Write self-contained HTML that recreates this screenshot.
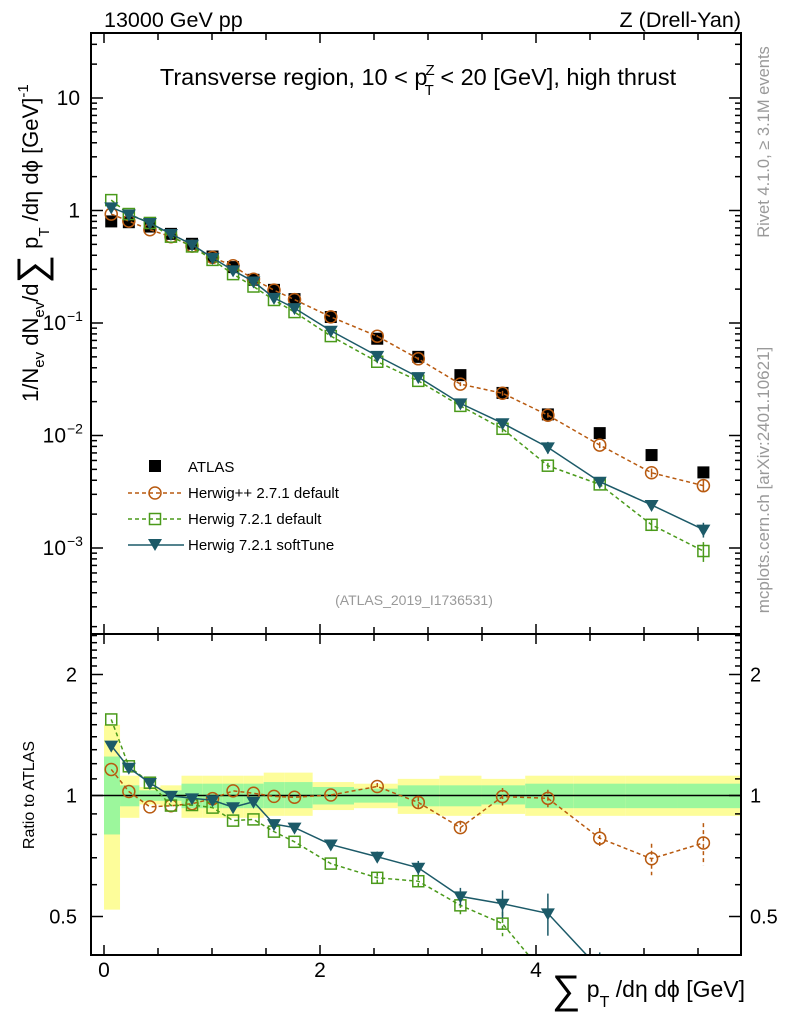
<!DOCTYPE html>
<html><head><meta charset="utf-8"><style>
html,body{margin:0;padding:0;background:#fff;overflow:hidden;width:786px;height:1024px}
svg{display:block;font-family:"Liberation Sans",sans-serif;overflow:hidden}
</style></head><body>
<svg id="chart" width="786" height="1024" viewBox="0 0 786 1024" xmlns="http://www.w3.org/2000/svg">
<g id="bands"></g>
<g id="marks"></g>
<g id="axes"></g>
<text x="104" y="27" font-size="21.5">13000 GeV pp</text>
<text x="741" y="27" font-size="21.5" text-anchor="end">Z (Drell-Yan)</text>
<text x="418" y="85" font-size="23.5" text-anchor="middle">Transverse region, 10 &lt; p<tspan dx="-2" dy="-10" font-size="15">Z</tspan><tspan dx="-10" dy="20" font-size="15">T</tspan><tspan dy="-10"> &lt; 20 [GeV], high thrust</tspan></text>
<text x="414" y="605" font-size="14" fill="#999" text-anchor="middle">(ATLAS_2019_I1736531)</text>
<text transform="translate(769,142) rotate(-90)" font-size="16.5" fill="#999" text-anchor="middle">Rivet 4.1.0, ≥ 3.1M events</text>
<text transform="translate(769,480) rotate(-90)" font-size="17" fill="#999" text-anchor="middle">mcplots.cern.ch [arXiv:2401.10621]</text>
<text transform="translate(38,402) rotate(-90)" font-size="22">1/N<tspan font-size="15" dy="6">ev</tspan><tspan dy="-6"> dN</tspan><tspan font-size="15" dy="6">ev</tspan><tspan dy="-6">/d</tspan><tspan font-size="40" dy="7">∑</tspan><tspan dy="-7"> p</tspan><tspan font-size="15" dy="11">T</tspan><tspan dy="-11"> /dη dϕ  [GeV]</tspan><tspan font-size="15" dy="-10">-1</tspan></text>
<text transform="translate(34,795) rotate(-90)" font-size="16" text-anchor="middle">Ratio to ATLAS</text>
<text x="745" y="997" font-size="23" text-anchor="end"><tspan font-size="40" dy="6">∑</tspan><tspan dy="-6"> p</tspan><tspan font-size="16" dy="10">T</tspan><tspan dy="-10"> /dη dϕ [GeV]</tspan></text>
<g font-size="15">
<rect x="149" y="460" width="12" height="12" fill="#000"/>
<text x="188" y="472">ATLAS</text>
<line x1="128" y1="493" x2="184" y2="493" stroke="#b85a10" stroke-width="1.5" stroke-dasharray="4,3"/>
<circle cx="155" cy="493" r="6" fill="none" stroke="#b85a10" stroke-width="1.5"/>
<text x="188" y="498">Herwig++ 2.7.1 default</text>
<line x1="128" y1="519" x2="184" y2="519" stroke="#4a9a1a" stroke-width="1.5" stroke-dasharray="4,3"/>
<rect x="149.5" y="513.5" width="11" height="11" fill="none" stroke="#4a9a1a" stroke-width="1.5"/>
<text x="188" y="524">Herwig 7.2.1 default</text>
<line x1="128" y1="545" x2="184" y2="545" stroke="#1c5a68" stroke-width="1.5"/>
<path d="M148,539 L162,539 L155,551 Z" fill="#1c5a68"/>
<text x="188" y="550">Herwig 7.2.1 softTune</text>
</g>
</svg>
<script>
const xVals=[0.067,0.23,0.425,0.62,0.815,1.005,1.195,1.384,1.574,1.764,2.1,2.53,2.91,3.3,3.69,4.11,4.59,5.07,5.55];
const atlas=[0.80,0.787,0.72,0.62,0.506,0.39,0.314,0.242,0.197,0.163,0.113,0.0725,0.050,0.0344,0.0239,0.0154,0.0105,0.0067,0.0047];
const ratioHpp=[1.161,1.023,0.937,0.943,0.954,0.982,1.027,1.013,0.995,0.99,1.003,1.053,0.961,0.832,0.994,0.984,0.783,0.696,0.762];
const ratioH7=[1.546,1.182,1.076,0.944,0.947,0.933,0.866,0.872,0.813,0.767,0.677,0.624,0.612,0.533,0.48,0.35,0.35,0.24,0.20];
const ratioSoft=[1.331,1.172,1.074,0.998,0.984,0.973,0.935,0.965,0.849,0.832,0.755,0.704,0.661,0.561,0.538,0.509,0.37,0.36,0.31];
const errHpp=[0,0,0,0,0,0,0,0,0,0,0,0.02,0.03,0.04,0.05,0.05,0.06,0.09,0.12];
const errH7=[0,0,0,0,0,0,0,0,0,0,0,0.03,0.03,0.05,0.07,0.06,0.08,0.12,0.2];
const errSoft=[0,0,0,0,0,0,0,0,0,0,0,0.03,0.04,0.05,0.08,0.12,0.1,0.1,0.15];
const yellowHi=[1.5,1.12,1.05,1.06,1.12,1.12,1.12,1.12,1.14,1.14,1.08,1.07,1.1,1.12,1.1,1.12,1.12,1.12,1.12];
const yellowLo=[0.52,0.88,0.95,0.94,0.88,0.88,0.88,0.88,0.89,0.89,0.92,0.93,0.9,0.89,0.9,0.89,0.89,0.89,0.89];
const greenHi=[1.25,1.06,1.03,1.03,1.07,1.07,1.07,1.07,1.08,1.08,1.05,1.04,1.06,1.06,1.06,1.07,1.07,1.07,1.07];
const greenLo=[0.8,0.94,0.97,0.97,0.93,0.93,0.93,0.93,0.93,0.93,0.95,0.96,0.94,0.94,0.95,0.93,0.93,0.93,0.93];
const NS="http://www.w3.org/2000/svg";
const L=91,R=741,T=33,MB=634,B=955;
const X=v=>104+v*108;
const Y=v=>210.5-112.5*Math.log10(v);
const RY=r=>795.5-121*Math.log2(r);
function mk(tag,attrs,parent){const e=document.createElementNS(NS,tag);for(const k in attrs)e.setAttribute(k,attrs[k]);parent.appendChild(e);return e;}
const bands=document.getElementById('bands'),marks=document.getElementById('marks'),axes=document.getElementById('axes');
const edges=[0];for(let i=0;i<xVals.length-1;i++)edges.push((xVals[i]+xVals[i+1])/2);edges.push(5.9);
for(let i=0;i<xVals.length;i++){
 const y=mk('rect',{x:X(edges[i]),y:RY(yellowHi[i]),width:X(edges[i+1])-X(edges[i]),height:RY(yellowLo[i])-RY(yellowHi[i]),fill:'#fdfd9a'},bands);
 
 
 const g=mk('rect',{x:X(edges[i]),y:RY(greenHi[i]),width:X(edges[i+1])-X(edges[i]),height:RY(greenLo[i])-RY(greenHi[i]),fill:'#9cf79c'},bands);
 
 
}
const unity=mk('line',{x1:L,x2:R,y1:RY(1),y2:RY(1),stroke:'#000','stroke-width':1.5},bands);


const defs=mk('defs',{},document.getElementById('chart'));
const c1=mk('clipPath',{id:'cm'},defs);mk('rect',{x:L,y:T,width:R-L,height:MB-T},c1);
const c2=mk('clipPath',{id:'cr'},defs);mk('rect',{x:L,y:MB,width:R-L,height:B-MB},c2);
const gm=mk('g',{'clip-path':'url(#cm)'},marks),gr=mk('g',{'clip-path':'url(#cr)'},marks);
function marker(type,cx,cy,col,parent){
 let e;
 if(type==='circle')e=mk('circle',{cx:cx,cy:cy,r:6,fill:'none',stroke:col,'stroke-width':1.5},parent);
 else if(type==='square')e=mk('rect',{x:cx-5.5,y:cy-5.5,width:11,height:11,fill:'none',stroke:col,'stroke-width':1.5},parent);
 else e=mk('path',{d:`M${cx-7},${cy-5} L${cx+7},${cy-5} L${cx},${cy+7} Z`,fill:col},parent);
 return e;
}
const series=[
 {name:'herwigpp',r:ratioHpp,err:errHpp,col:'#b85a10',dash:'4,3',m:'circle'},
 {name:'herwig7-default',r:ratioH7,err:errH7,col:'#4a9a1a',dash:'4,3',m:'square'},
 {name:'herwig7-softtune',r:ratioSoft,err:errSoft,col:'#1c5a68',dash:'',m:'tri'}];
atlas.forEach((v,i)=>{
 const s=mk('rect',{x:X(xVals[i])-6,y:Y(v)-6,width:12,height:12,fill:'#000'},gm);
 
 
});
series.forEach(s=>{
 const mainV=atlas.map((a,i)=>a*s.r[i]);
 const p1=mk('polyline',{points:xVals.map((x,i)=>X(x)+','+Y(mainV[i])).join(' '),fill:'none',stroke:s.col,'stroke-width':1.5,'stroke-dasharray':s.dash},gm);
 
 
 const p2=mk('polyline',{points:xVals.map((x,i)=>X(x)+','+RY(s.r[i])).join(' '),fill:'none',stroke:s.col,'stroke-width':1.5,'stroke-dasharray':s.dash},gr);
 
 
 xVals.forEach((x,i)=>{
  const e=s.err[i];
  if(e>0){
   mk('line',{x1:X(x),x2:X(x),y1:Y(mainV[i]*(1+e)),y2:Y(mainV[i]*(1-e)),stroke:s.col,'stroke-width':1.5},gm);
   mk('line',{x1:X(x),x2:X(x),y1:RY(s.r[i]*(1+e)),y2:RY(s.r[i]*(1-e)),stroke:s.col,'stroke-width':1.5,'stroke-dasharray':s.dash},gr);
  }
  const a=marker(s.m,X(x),Y(mainV[i]),s.col,gm);
  
  
  const b=marker(s.m,X(x),RY(s.r[i]),s.col,gr);
  
  
 });
});
[[T,MB],[MB,B]].forEach(([t,b])=>mk('rect',{x:L,y:t,width:R-L,height:b-t,fill:'none',stroke:'#000','stroke-width':2},axes));
for(let v=0;v<=5.9;v+=0.5){
 const x=X(v),big=Math.abs(v%2)<0.01?10:7;
 [[T,1],[MB,-1],[MB,1],[B,-1]].forEach(([y,d])=>mk('line',{x1:x,x2:x,y1:y,y2:y+d*big,stroke:'#000','stroke-width':1.5},axes));
}
[0,2,4].forEach(v=>{const t=mk('text',{x:X(v),y:977,'font-size':21,'text-anchor':'middle'},axes);t.textContent=v;
 
 });
for(let d=-4;d<=1;d++){for(let k=1;k<10;k++){const v=k*Math.pow(10,d),y=Y(v);if(y<T||y>MB)continue;
 const len=k===1?12:6;
 mk('line',{x1:L,x2:L+len,y1:y,y2:y,stroke:'#000','stroke-width':1.5},axes);
 mk('line',{x1:R,x2:R-len,y1:y,y2:y,stroke:'#000','stroke-width':1.5},axes);}}
const decs=[{v:10,t:'10'},{v:1,t:'1'},{v:0.1,t:'10',e:'−1'},{v:0.01,t:'10',e:'−2'},{v:0.001,t:'10',e:'−3'}];
decs.forEach(o=>{const t=mk('text',{x:o.e?66:80,y:Y(o.v)+7,'font-size':21,'text-anchor':'end'},axes);t.textContent=o.t;
 
 
 if(o.e){const s=mk('text',{x:67,y:Y(o.v)-2,'font-size':14},axes);s.textContent=o.e;}});
const rt=[0.4,0.5,0.6,0.7,0.8,0.9,1,1.1,1.2,1.3,1.4,1.5,1.6,1.7,1.8,1.9,2,2.1,2.2,2.3,2.4,2.5];
rt.forEach(r=>{const y=RY(r);if(y<MB||y>B)return;const len=(r===0.5||r===1||r===2)?12:6;
 mk('line',{x1:L,x2:L+len,y1:y,y2:y,stroke:'#000','stroke-width':1.5},axes);
 mk('line',{x1:R,x2:R-len,y1:y,y2:y,stroke:'#000','stroke-width':1.5},axes);});
[[2,'2'],[1,'1'],[0.5,'0.5']].forEach(([r,s])=>{
 const a=mk('text',{x:77,y:RY(r)+7,'font-size':20,'text-anchor':'end'},axes);a.textContent=s;
 
 
 const b=mk('text',{x:750,y:RY(r)+7,'font-size':20},axes);b.textContent=s;
 
 });
</script>
</body></html>
